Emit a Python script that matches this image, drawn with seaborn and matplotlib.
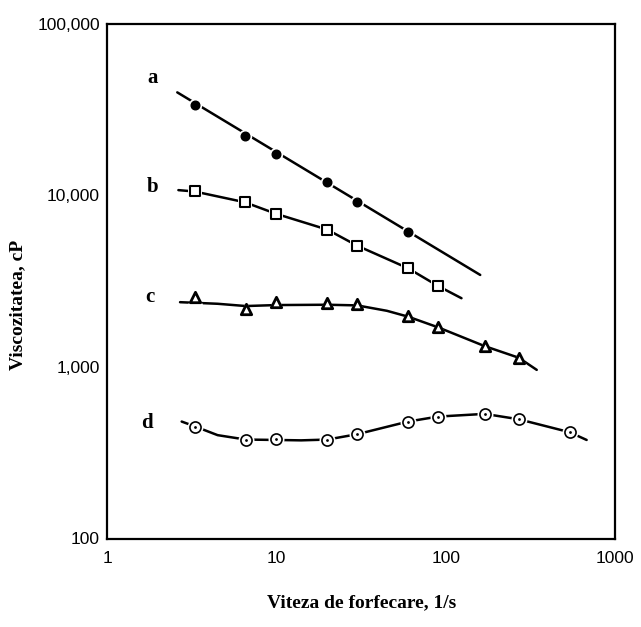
import numpy as np
import pandas as pd
import matplotlib
matplotlib.use("Agg")
import matplotlib.pyplot as plt
import seaborn as sns

# ---- data ----
a_x = [3.3, 6.5, 10, 20, 30, 60]
a_y = [33500, 22200, 17300, 11900, 9170, 6100]
a_line_x = [2.6, 160]
a_line_y = [39700, 3430]

b_x = [3.3, 6.5, 10, 20, 30, 60, 90]
b_y = [10600, 9100, 7780, 6300, 5080, 3750, 2960]
b_line_x = [2.64, 3.3, 6.5, 10, 20, 30, 60, 90, 124]
b_line_y = [10700, 10500, 9100, 7780, 6300, 5080, 3750, 2960, 2510]

c_x = [3.3, 6.6, 10, 20, 30, 60, 90, 170, 270]
c_y = [2560, 2170, 2380, 2350, 2320, 1980, 1700, 1320, 1130]
c_line_x = [2.7, 4.5, 6.6, 10, 20, 30, 45, 60, 90, 170, 270, 345]
c_line_y = [2380, 2330, 2260, 2290, 2300, 2280, 2120, 1960, 1700, 1320, 1130, 960]

d_x = [3.3, 6.6, 10, 20, 30, 60, 90, 170, 270, 540]
d_y = [445, 375, 378, 375, 405, 480, 513, 532, 495, 416]
d_line_x = [2.76, 3.3, 4.5, 6.6, 10, 14, 20, 30, 60, 90, 170, 270, 540, 680]
d_line_y = [480, 450, 400, 377, 375, 373, 377, 405, 480, 513, 532, 495, 416, 375]

curve_labels = ["a", "b", "c", "d"]
label_x = [1.87, 1.87, 1.79, 1.72]
label_y = [48000, 11200, 2560, 470]

x_ticks = [1, 10, 100, 1000]
x_tick_labels = ["1", "10", "100", "1000"]
y_ticks = [100, 1000, 10000, 100000]
y_tick_labels = ["100", "1,000", "10,000", "100,000"]

x_label = "Viteza de forfecare, 1/s"
y_label = "Viscozitatea, cP"

# ---- figure ----
sns.set_style("white")
plt.rcParams["font.family"] = ["Liberation Sans", "DejaVu Sans"]
plt.rcParams["text.color"] = "black"

fig = plt.figure(figsize=(6.41, 6.27), dpi=100)
ax = fig.add_axes([107 / 641, 1 - 538.5 / 627, 508 / 641, 515 / 627])
ax.set_xscale("log")
ax.set_yscale("log")

lw = 1.8
for lx, ly in [(a_line_x, a_line_y), (b_line_x, b_line_y),
               (c_line_x, c_line_y), (d_line_x, d_line_y)]:
    df = pd.DataFrame({"x": lx, "y": ly})
    sns.lineplot(data=df, x="x", y="y", ax=ax, sort=False, estimator=None,
                 color="black", linewidth=lw, zorder=2)

specs = [
    (a_x, a_y, "o", "black", 6.2, 1.0),
    (b_x, b_y, "s", "white", 6.5, 1.5),
    (c_x, c_y, "^", "white", 7.5, 2.0),
    (d_x, d_y, "o", "white", 8.0, 1.2),
]
for xs, ys, m, fc, ms, mew in specs:
    df = pd.DataFrame({"x": xs, "y": ys})
    # white halo to break the line around each marker
    sns.scatterplot(data=df, x="x", y="y", ax=ax, marker=m, s=(ms + 3.5) ** 2,
                    color="white", edgecolor="white", linewidth=0, zorder=3)
    sns.scatterplot(data=df, x="x", y="y", ax=ax, marker=m, s=ms ** 2,
                    color=fc, edgecolor="black", linewidth=mew, zorder=4)
# centre dots for curve d
sns.scatterplot(x=d_x, y=d_y, ax=ax, marker="o", s=4, color="black",
                edgecolor="black", linewidth=0, zorder=5)

for t, lx, ly in zip(curve_labels, label_x, label_y):
    ax.text(lx, ly, t, ha="center", va="center", fontsize=15, color="black",
            fontweight="bold", family=["Liberation Serif"])

ax.set_xlim(1, 1000)
ax.set_ylim(100, 100000)
ax.set_xticks(x_ticks)
ax.set_xticklabels(x_tick_labels)
ax.set_yticks(y_ticks)
ax.set_yticklabels(y_tick_labels)
ax.minorticks_off()
ax.tick_params(axis="both", which="major", direction="in", length=14,
               width=1.5, labelsize=12.5, color="black", labelcolor="black")
ax.tick_params(axis="x", pad=9)
ax.tick_params(axis="y", pad=5)

for s in ax.spines.values():
    s.set_visible(True)
    s.set_color("black")
    s.set_linewidth(1.6)

ax.set_xlabel("")
ax.set_ylabel("")
fig.text(362 / 641, 1 - 603 / 627, x_label, ha="center", va="center",
         fontsize=14, fontweight="bold", color="black",
         family=["Liberation Serif"])
fig.text(18 / 641, 1 - 305 / 627, y_label, ha="center", va="center",
         rotation=90, fontsize=14, fontweight="bold", color="black",
         family=["Liberation Serif"])

fig.savefig("out.png", dpi=100, facecolor="white")
